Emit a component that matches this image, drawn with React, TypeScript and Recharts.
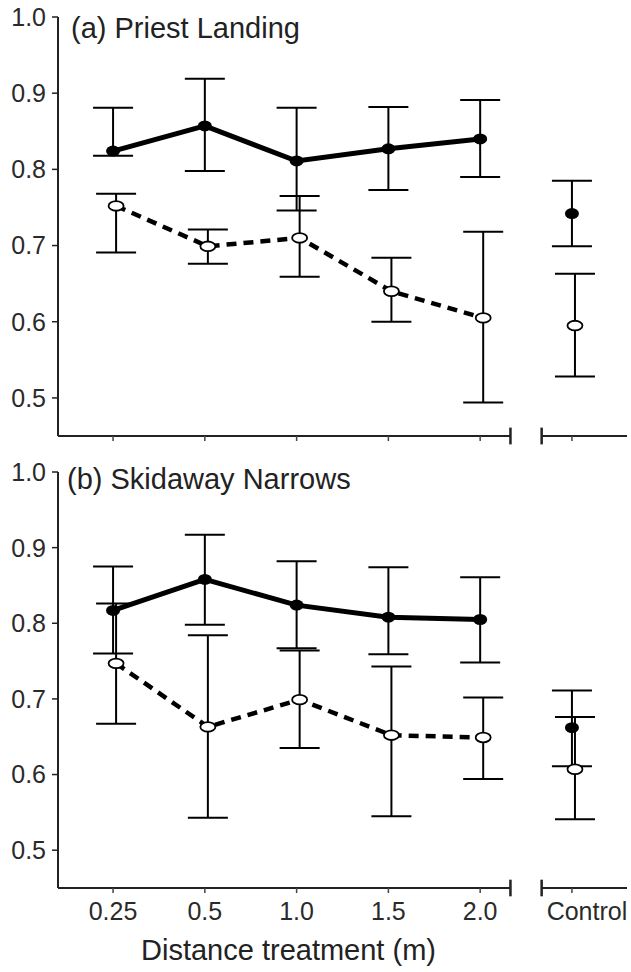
import React from 'react';
import { ComposedChart, Line, XAxis, YAxis, ErrorBar, ReferenceLine } from 'recharts';

const categories = ['0.25', '0.5', '1.0', '1.5', '2.0', 'Control'];
const xTicks = [0, 1, 2, 3, 4, 5];
const yTicks = [0.5, 0.6, 0.7, 0.8, 0.9, 1.0];

// (a) Priest Landing
const aSolidMean = [0.824, 0.857, 0.811, 0.827, 0.84];
const aSolidLow = [0.818, 0.798, 0.746, 0.773, 0.79];
const aSolidHigh = [0.881, 0.919, 0.881, 0.882, 0.891];
const aDashMean = [0.752, 0.699, 0.71, 0.64, 0.605];
const aDashLow = [0.691, 0.676, 0.659, 0.6, 0.494];
const aDashHigh = [0.768, 0.721, 0.765, 0.684, 0.718];
const aCtrlSolid = [0.742, 0.699, 0.785]; // mean, low, high
const aCtrlDash = [0.595, 0.528, 0.663];

// (b) Skidaway Narrows
const bSolidMean = [0.817, 0.858, 0.824, 0.808, 0.805];
const bSolidLow = [0.76, 0.798, 0.767, 0.759, 0.748];
const bSolidHigh = [0.875, 0.917, 0.882, 0.874, 0.861];
const bDashMean = [0.747, 0.663, 0.699, 0.652, 0.649];
const bDashLow = [0.667, 0.543, 0.635, 0.545, 0.594];
const bDashHigh = [0.826, 0.784, 0.764, 0.743, 0.702];
const bCtrlSolid = [0.662, 0.611, 0.711];
const bCtrlDash = [0.607, 0.541, 0.676];

const FONT = '"Liberation Sans", Arial, sans-serif';
const X_DOMAIN: [number, number] = [-0.6, 5.6];
const DODGE = 0.033;
const BREAK_L = 4.33;
const BREAK_R = 4.67;

type Pt = { x: number; y: number; err: [number, number] };

function build(means: number[], lows: number[], highs: number[], start: number): Pt[] {
  return means.map((m, i) => ({ x: start + i, y: m, err: [m - lows[i], highs[i] - m] as [number, number] }));
}

const FilledDot = (p: any) => {
  if (p.cx == null || p.cy == null) return <g key={`f${p.index}`} />;
  return <ellipse key={`f${p.index}`} cx={p.cx} cy={p.cy} rx={7} ry={5.5} fill="#000" stroke="none" />;
};

const OpenDot = (p: any) => {
  if (p.cx == null || p.cy == null) return <g key={`o${p.index}`} />;
  return <ellipse key={`o${p.index}`} cx={p.cx} cy={p.cy} rx={7.5} ry={4.8} fill="#fff" stroke="#000" strokeWidth={1.8} />;
};

const makeXTick = (show: boolean) => (props: any) => {
  const { x, y, payload } = props;
  if (!show) return <g />;
  const i = payload.value as number;
  const dx = i === 5 ? 15 : 0;
  return (
    <text x={x + dx} y={y} dy="0.71em" textAnchor="middle" fontSize={25} fill="#2a2a2a" fontFamily={FONT}>
      {categories[i]}
    </text>
  );
};

type PanelProps = {
  top: number;
  height: number;
  marginTop: number;
  marginBottom: number;
  xAxisHeight: number;
  showLabels: boolean;
  title: string;
  titleLeft: number;
  titleTop: number;
  solid: Pt[];
  dash: Pt[];
  ctrlSolid: Pt[];
  ctrlDash: Pt[];
};

function Panel(p: PanelProps) {
  return (
    <div style={{ position: 'absolute', left: 0, top: p.top, width: 631, height: p.height }}>
      <ComposedChart
        width={631}
        height={p.height}
        margin={{ top: p.marginTop, right: 4, bottom: p.marginBottom, left: 0 }}
      >
        <XAxis
          xAxisId="a"
          type="number"
          dataKey="x"
          domain={X_DOMAIN}
          allowDataOverflow
          ticks={xTicks}
          interval={0}
          axisLine={false}
          tickLine={{ stroke: '#444', strokeWidth: 1.5 }}
          tickSize={5}
          tickMargin={9}
          height={p.xAxisHeight}
          tick={makeXTick(p.showLabels)}
        />
        <XAxis
          xAxisId="z"
          type="number"
          dataKey="x"
          domain={[X_DOMAIN[0] - DODGE, X_DOMAIN[1] - DODGE]}
          allowDataOverflow
          height={0}
          hide
        />
        <YAxis
          type="number"
          domain={[0.45, 1.0]}
          allowDataOverflow
          ticks={yTicks}
          interval={0}
          width={58}
          tickFormatter={(v: number) => v.toFixed(1)}
          tick={{ fontSize: 25, fill: '#2a2a2a', fontFamily: FONT }}
          tickSize={6}
          tickMargin={6}
          axisLine={{ stroke: '#222', strokeWidth: 2 }}
          tickLine={{ stroke: '#222', strokeWidth: 1.5 }}
        />
        <ReferenceLine
          xAxisId="a"
          segment={[{ x: X_DOMAIN[0], y: 0.45 }, { x: BREAK_L, y: 0.45 }]}
          stroke="#222"
          strokeWidth={2}
          ifOverflow="visible"
        />
        <ReferenceLine
          xAxisId="a"
          segment={[{ x: BREAK_R, y: 0.45 }, { x: X_DOMAIN[1], y: 0.45 }]}
          stroke="#222"
          strokeWidth={2}
          ifOverflow="visible"
        />
        <ReferenceLine
          xAxisId="a"
          segment={[{ x: BREAK_L, y: 0.439 }, { x: BREAK_L, y: 0.461 }]}
          stroke="#222"
          strokeWidth={2.5}
          ifOverflow="visible"
        />
        <ReferenceLine
          xAxisId="a"
          segment={[{ x: BREAK_R, y: 0.439 }, { x: BREAK_R, y: 0.461 }]}
          stroke="#222"
          strokeWidth={2.5}
          ifOverflow="visible"
        />
        <Line
          xAxisId="z"
          data={p.dash}
          dataKey="y"
          stroke="#000"
          strokeWidth={4.5}
          strokeDasharray="10 7"
          dot={OpenDot}
          activeDot={false}
          isAnimationActive={false}
        >
          <ErrorBar dataKey="err" direction="y" width={20} stroke="#000" strokeWidth={2} />
        </Line>
        <Line
          xAxisId="z"
          data={p.ctrlDash}
          dataKey="y"
          stroke="#000"
          strokeWidth={0}
          dot={OpenDot}
          activeDot={false}
          isAnimationActive={false}
        >
          <ErrorBar dataKey="err" direction="y" width={20} stroke="#000" strokeWidth={2} />
        </Line>
        <Line
          xAxisId="a"
          data={p.solid}
          dataKey="y"
          stroke="#000"
          strokeWidth={5}
          dot={FilledDot}
          activeDot={false}
          isAnimationActive={false}
        >
          <ErrorBar dataKey="err" direction="y" width={20} stroke="#000" strokeWidth={2} />
        </Line>
        <Line
          xAxisId="a"
          data={p.ctrlSolid}
          dataKey="y"
          stroke="#000"
          strokeWidth={0}
          dot={FilledDot}
          activeDot={false}
          isAnimationActive={false}
        >
          <ErrorBar dataKey="err" direction="y" width={20} stroke="#000" strokeWidth={2} />
        </Line>
      </ComposedChart>
      <div
        style={{
          position: 'absolute',
          left: p.titleLeft,
          top: p.titleTop,
          fontFamily: FONT,
          fontSize: 29,
          lineHeight: 1,
          color: '#222',
          whiteSpace: 'nowrap',
        }}
      >
        {p.title}
      </div>
    </div>
  );
}

export default function App() {
  return (
    <div style={{ position: 'absolute', left: 0, top: 0, width: 631, height: 972, background: '#fff' }}>
      <Panel
        top={0}
        height={450}
        marginTop={17}
        marginBottom={4}
        xAxisHeight={10}
        showLabels={false}
        title="(a) Priest Landing"
        titleLeft={71}
        titleTop={14}
        solid={build(aSolidMean, aSolidLow, aSolidHigh, 0)}
        dash={build(aDashMean, aDashLow, aDashHigh, 0)}
        ctrlSolid={build([aCtrlSolid[0]], [aCtrlSolid[1]], [aCtrlSolid[2]], 5)}
        ctrlDash={build([aCtrlDash[0]], [aCtrlDash[1]], [aCtrlDash[2]], 5)}
      />
      <Panel
        top={450}
        height={522}
        marginTop={22}
        marginBottom={24}
        xAxisHeight={60}
        showLabels={true}
        title="(b) Skidaway Narrows"
        titleLeft={67}
        titleTop={15}
        solid={build(bSolidMean, bSolidLow, bSolidHigh, 0)}
        dash={build(bDashMean, bDashLow, bDashHigh, 0)}
        ctrlSolid={build([bCtrlSolid[0]], [bCtrlSolid[1]], [bCtrlSolid[2]], 5)}
        ctrlDash={build([bCtrlDash[0]], [bCtrlDash[1]], [bCtrlDash[2]], 5)}
      />
      <div
        style={{
          position: 'absolute',
          left: 0,
          width: 577,
          top: 936,
          textAlign: 'center',
          fontFamily: FONT,
          fontSize: 29,
          lineHeight: 1,
          color: '#222',
          whiteSpace: 'nowrap',
        }}
      >
        Distance treatment (m)
      </div>
    </div>
  );
}
